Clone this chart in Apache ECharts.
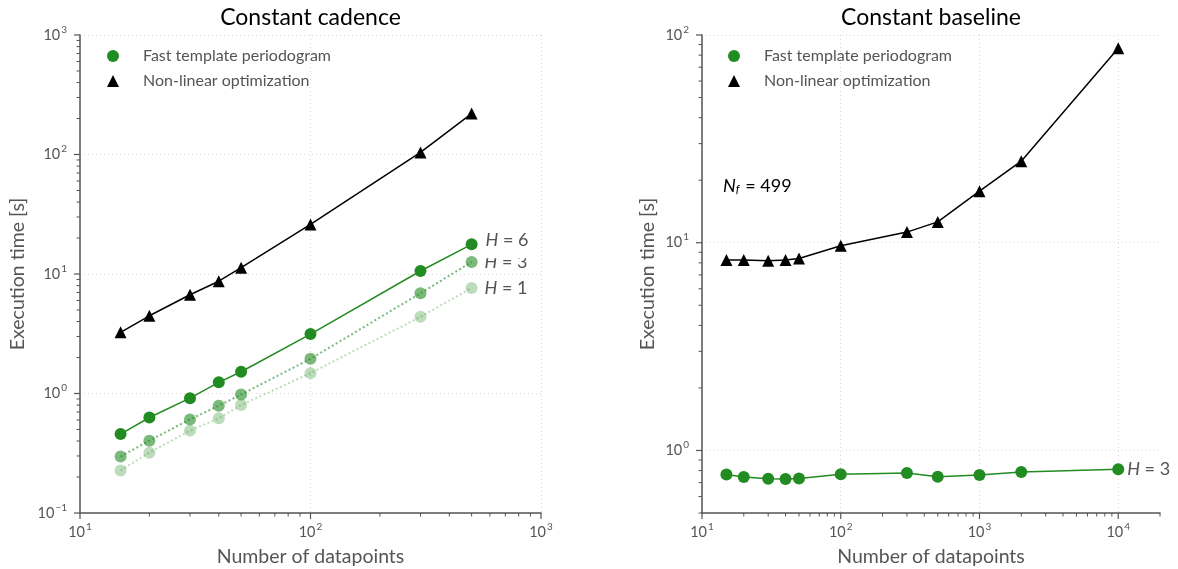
<!DOCTYPE html>
<html><head><meta charset="utf-8">
<script src="https://cdn.jsdelivr.net/npm/echarts@6/dist/echarts.min.js"></script>
<style>html,body{margin:0;padding:0;background:#fff}#c{width:1178px;height:569px}</style>
</head><body><div id="c"></div>
<script>
// ---- data ----
const cadenceN = [15, 20, 30, 40, 50, 100, 300, 500];
const cadenceNonlinear = [3.25, 4.47, 6.7, 8.7, 11.3, 26, 104, 220];
const cadenceH6 = [0.458, 0.63, 0.914, 1.24, 1.52, 3.14, 10.6, 17.7];
const cadenceH3 = [0.297, 0.403, 0.607, 0.79, 0.98, 1.95, 6.9, 12.6];
const cadenceH1 = [0.227, 0.32, 0.489, 0.62, 0.80, 1.48, 4.38, 7.64];

const baselineN = [15, 20, 30, 40, 50, 100, 300, 500, 1000, 2000, 10000];
const baselineNonlinear = [8.26, 8.26, 8.19, 8.26, 8.4, 9.67, 11.25, 12.6, 17.7, 24.7, 86.3];
const baselineH3 = [0.767, 0.745, 0.731, 0.728, 0.733, 0.769, 0.778, 0.747, 0.761, 0.787, 0.811];

const cadenceXTicks = [10, 100, 1000];
const cadenceYTicks = [0.1, 1, 10, 100, 1000];
const baselineXTicks = [10, 100, 1000, 10000];
const baselineYTicks = [1, 10, 100];

const titles = ['Constant cadence', 'Constant baseline'];
const legendNames = ['Fast template periodogram', 'Non-linear optimization'];

// ---- styling ----
const F = 'Lato, "DejaVu Sans", sans-serif';
const GRAY = '#555';
const GREEN = '#228B22';
const GREEN_MID = 'rgba(34,139,34,0.6)';
const GREEN_LIGHT = 'rgba(34,139,34,0.3)';

const RICH = {
  b: { fontSize: 14.5, color: GRAY, fontFamily: F },
  s: { fontSize: 10, color: GRAY, fontFamily: F, padding: [0, 0, 11, 1] }
};
function powLabel(v, ticks) {
  if (!ticks.some(t => Math.abs(t - v) / t < 1e-6)) return '';
  const e = Math.round(Math.log10(v));
  return '{b|10}{s|' + (e < 0 ? '\u2212' + (-e) : e) + '}';
}
function hLabel(txt, extra) {
  return Object.assign({
    show: true, position: 'right', distance: 7,
    formatter: '{i|H}{t| = ' + txt + '}',
    rich: {
      i: { fontSize: 18, color: GRAY, fontFamily: F, fontStyle: 'italic' },
      t: { fontSize: 18, color: GRAY, fontFamily: F }
    }
  }, extra || {});
}
function pts(xs, ys, lastLabel) {
  return xs.map((x, i) => {
    const d = { value: [x, ys[i]] };
    if (lastLabel && i === xs.length - 1) d.label = lastLabel;
    return d;
  });
}
function xAxisCfg(grid, min, max, ticks, showMax) {
  return {
    type: 'log', logBase: 10, gridIndex: grid, min: min, max: max,
    name: 'Number of datapoints', nameLocation: 'middle', nameGap: 34,
    nameTextStyle: { fontSize: 19.5, color: GRAY, fontFamily: F },
    axisLine: { lineStyle: { color: GRAY, width: 1.5 } },
    axisTick: { show: false },
    axisLabel: { margin: 9, formatter: v => powLabel(v, ticks), rich: RICH },
    splitLine: { show: true, showMaxLine: showMax, lineStyle: { type: [1, 3], color: '#d8d8d8', width: 1 } }
  };
}
function yAxisCfg(grid, min, max, ticks, gap) {
  return {
    type: 'log', logBase: 10, gridIndex: grid, min: min, max: max,
    name: 'Execution time [s]', nameLocation: 'middle', nameGap: gap,
    nameTextStyle: { fontSize: 19.5, color: GRAY, fontFamily: F },
    axisLine: { show: true, lineStyle: { color: GRAY, width: 1.5 } },
    axisTick: { show: false },
    axisLabel: { margin: 13, formatter: v => powLabel(v, ticks), rich: RICH },
    splitLine: { show: true, lineStyle: { type: [1, 3], color: '#d8d8d8', width: 1 } }
  };
}
function legendCfg(left) {
  return {
    left: left, top: 42, orient: 'vertical', itemWidth: 12, itemHeight: 12, itemGap: 7,
    selectedMode: false,
    data: [{ name: legendNames[0], icon: 'circle' }, { name: legendNames[1], icon: 'triangle' }],
    textStyle: { fontSize: 16, color: GRAY, fontFamily: F, padding: [0, 0, 0, 19], lineHeight: 18 }
  };
}

const grids = [
  { left: 80, top: 35, width: 461, height: 478, outerBoundsMode: 'none', containLabel: false },
  { left: 702, top: 35, width: 458, height: 478, outerBoundsMode: 'none', containLabel: false }
];

const option = {
  animation: false,
  backgroundColor: '#fff',
  grid: grids,
  legend: [legendCfg(102), legendCfg(723)],
  xAxis: [xAxisCfg(0, 10, 1000, cadenceXTicks, true), xAxisCfg(1, 10, 20000, baselineXTicks, false)],
  yAxis: [yAxisCfg(0, 0.1, 1000, cadenceYTicks, 52), yAxisCfg(1, 0.5, 100, baselineYTicks, 44)],
  series: [
    { name: legendNames[1], type: 'line', xAxisIndex: 0, yAxisIndex: 0, data: pts(cadenceN, cadenceNonlinear),
      symbol: 'triangle', symbolSize: 12, itemStyle: { color: '#000' }, lineStyle: { color: '#000', width: 1.5 }, z: 3 },
    { name: 'H1', type: 'line', xAxisIndex: 0, yAxisIndex: 0, data: pts(cadenceN, cadenceH1, hLabel('1')),
      symbol: 'circle', symbolSize: 12, itemStyle: { color: GREEN_LIGHT }, lineStyle: { color: GREEN_LIGHT, width: 2, type: [2, 2.5] }, z: 2 },
    { name: 'H3', type: 'line', xAxisIndex: 0, yAxisIndex: 0, data: pts(cadenceN, cadenceH3, hLabel('3')),
      symbol: 'circle', symbolSize: 12, itemStyle: { color: GREEN_MID }, lineStyle: { color: GREEN_MID, width: 2, type: [2, 2.5] }, z: 2 },
    { name: legendNames[0], type: 'line', xAxisIndex: 0, yAxisIndex: 0,
      data: pts(cadenceN, cadenceH6, hLabel('6', { backgroundColor: '#fff', padding: [1, 3, 9, 1] })),
      symbol: 'circle', symbolSize: 12, itemStyle: { color: GREEN }, lineStyle: { color: GREEN, width: 1.5 }, z: 5 },

    { name: legendNames[1], type: 'line', xAxisIndex: 1, yAxisIndex: 1, data: pts(baselineN, baselineNonlinear),
      symbol: 'triangle', symbolSize: 12, itemStyle: { color: '#000' }, lineStyle: { color: '#000', width: 1.5 }, z: 3 },
    { name: legendNames[0], type: 'line', xAxisIndex: 1, yAxisIndex: 1, data: pts(baselineN, baselineH3, hLabel('3', { distance: 3 })),
      symbol: 'circle', symbolSize: 12, itemStyle: { color: GREEN }, lineStyle: { color: GREEN, width: 1.5 }, z: 3 }
  ]
};

const chart = echarts.init(document.getElementById('c'), null, { renderer: 'canvas' });
chart.setOption(option);

// ---- ticks (major + minor) drawn through the axes' own scale ----
function minorVals(lo, hi) {
  const out = [];
  for (let d = Math.floor(Math.log10(lo)); d <= Math.ceil(Math.log10(hi)); d++) {
    for (let k = 2; k <= 9; k++) {
      const v = k * Math.pow(10, d);
      if (v >= lo * 0.999 && v <= hi * 1.001) out.push(v);
    }
  }
  return out;
}
const axesInfo = [
  { grid: 0, x: [10, 1000], y: [0.1, 1000], xt: cadenceXTicks, yt: cadenceYTicks },
  { grid: 1, x: [10, 20000], y: [0.5, 100], xt: baselineXTicks, yt: baselineYTicks }
];
const gfx = [];
function tick(x1, y1, x2, y2, w) {
  gfx.push({ type: 'line', silent: true, z: 10, shape: { x1, y1, x2, y2 }, style: { stroke: GRAY, lineWidth: w } });
}
axesInfo.forEach(a => {
  const conv = (xv, yv) => chart.convertToPixel({ gridIndex: a.grid }, [xv, yv]);
  a.xt.forEach(v => { const p = conv(v, a.y[0]); tick(p[0], p[1], p[0], p[1] + 6, 1.2); });
  minorVals(a.x[0], a.x[1]).forEach(v => { const p = conv(v, a.y[0]); tick(p[0], p[1], p[0], p[1] + 3.5, 1); });
  a.yt.forEach(v => { const p = conv(a.x[0], v); tick(p[0], p[1], p[0] - 6, p[1], 1.2); });
  minorVals(a.y[0], a.y[1]).forEach(v => { const p = conv(a.x[0], v); tick(p[0], p[1], p[0] - 3.5, p[1], 1); });
});
// titles
gfx.push({ type: 'text', x: 80 + 461 / 2, y: 18, style: { text: titles[0], fontSize: 23, fontFamily: F, fill: '#000', align: 'center', verticalAlign: 'middle' } });
gfx.push({ type: 'text', x: 702 + 458 / 2, y: 18, style: { text: titles[1], fontSize: 23, fontFamily: F, fill: '#000', align: 'center', verticalAlign: 'middle' } });
// N_f annotation
gfx.push({ type: 'text', x: 723, y: 186, style: {
  text: '{i|N}{sub|f}{t| = 499}', verticalAlign: 'middle', align: 'left',
  rich: {
    i: { fontSize: 18, fontStyle: 'italic', fill: '#000', fontFamily: F },
    sub: { fontSize: 12, fontStyle: 'italic', fill: '#000', fontFamily: F, padding: [7, 1, 0, 0] },
    t: { fontSize: 18, fill: '#000', fontFamily: F }
  } } });
chart.setOption({ graphic: gfx });
</script>
</body></html>
